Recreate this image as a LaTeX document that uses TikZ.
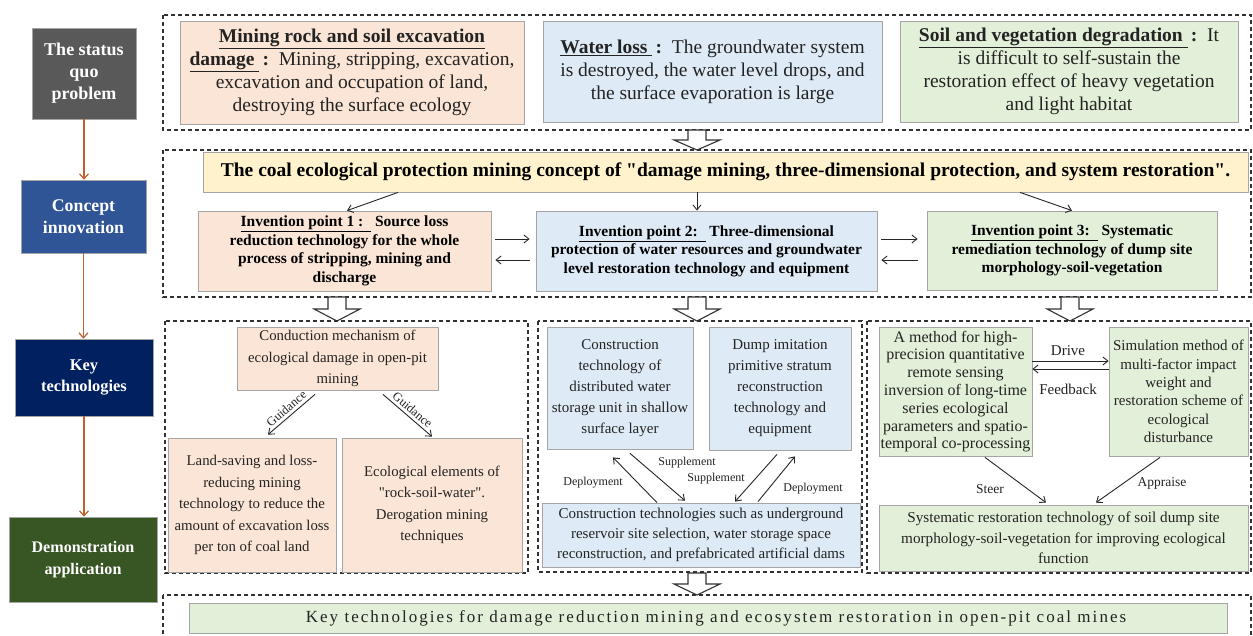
\documentclass[tikz,border=0pt]{standalone}
\usepackage{fontspec}
\setmainfont{Liberation Serif}
\usetikzlibrary{arrows.meta,calc}
\definecolor{pinkf}{RGB}{251,229,214}
\definecolor{bluef}{RGB}{222,235,247}
\definecolor{greenf}{RGB}{226,240,217}
\definecolor{yellowf}{RGB}{255,242,204}
\definecolor{sqc}{RGB}{89,89,89}
\definecolor{cic}{RGB}{47,85,151}
\definecolor{ktc}{RGB}{0,32,96}
\definecolor{dac}{RGB}{55,86,35}
\definecolor{boxline}{RGB}{165,165,165}
\definecolor{frameline}{RGB}{50,50,50}
\definecolor{txt}{RGB}{35,35,35}
\definecolor{brown}{RGB}{190,98,48}
\newcommand\hollowarrow[3]{%
  \draw[hollow] ({#1-9},#2) -- ({#1+9},#2) -- ({#1+9},{(#2+#3)/2}) -- ({#1+23},{(#2+#3)/2})
     -- (#1,#3) -- ({#1-23},{(#2+#3)/2}) -- ({#1-9},{(#2+#3)/2}) -- cycle;}
\begin{document}
\begin{tikzpicture}[x=1pt,y=-1pt,
  box/.style={draw=boxline, line width=0.8pt, align=center, inner sep=0pt, text=txt},
  lbl/.style={draw=boxline, line width=0.6pt, align=center, inner sep=0pt, text=white,
    font=\fontsize{18}{22}\selectfont\bfseries},
  frame/.style={draw=frameline, line width=1.1pt, dash pattern=on 4pt off 3pt},
  arr/.style={-{Straight Barb[length=5pt,width=8pt]}, line width=0.9pt, draw=black!85},
  brarr/.style={-{Straight Barb[length=5pt,width=9pt]}, line width=1.2pt, draw=brown},
  hollow/.style={draw=black!80, line width=1.1pt, fill=white},
  small/.style={text=txt, inner sep=1pt, font=\fontsize{12}{13}\selectfont},
  topf/.style={font=\fontsize{19.5}{23}\selectfont},
  invf/.style={font=\fontsize{15.5}{18.5}\selectfont\bfseries, text=black},
  botf/.style={font=\fontsize{14.8}{21.5}\selectfont},
  ]
\useasboundingbox (0,0) rectangle (1253,635);
\fill[white] (0,0) rectangle (1253,635);

% left column
\node[lbl, fill=sqc, minimum width=104pt, minimum height=91pt] (sq) at (84,73.5) {The status\\quo\\problem};
\node[lbl, fill=cic, minimum width=125pt, minimum height=73pt, font=\fontsize{17.8}{22}\selectfont\bfseries] (ci) at (83.5,216.5) {Concept\\innovation};
\node[lbl, fill=ktc, minimum width=138pt, minimum height=77pt, font=\fontsize{16.4}{21}\selectfont\bfseries] (kt) at (84,377.5) {Key\\technologies};
\node[lbl, fill=dac, minimum width=148pt, minimum height=85pt, font=\fontsize{16.1}{22}\selectfont\bfseries] (da) at (83,559.5) {Demonstration\\application};
\draw[brarr] (sq.south) -- (sq.south |- ci.north);
\draw[brarr] (ci.south) -- (ci.south |- kt.north);
\draw[brarr] (kt.south) -- (kt.south |- da.north);

% top frame
\draw[frame] (163,15) rectangle (1251,130);
\node[box, fill=pinkf, topf, minimum width=344pt, minimum height=103pt] (t1) at (352,72.5)
 {\textbf{\underline{Mining rock and soil excavation}}\\\textbf{\underline{damage\ }\,:}\ \ Mining, stripping, excavation,\\excavation and occupation of land,\\destroying the surface ecology};
\node[box, fill=bluef, topf, minimum width=339pt, minimum height=101pt] (t2) at (712.5,71.5)
 {\textbf{\underline{Water loss\ }\,:}\ \ The groundwater system\\is destroyed, the water level drops, and\\the surface evaporation is large};
\node[box, fill=greenf, topf, minimum width=338pt, minimum height=101pt] (t3) at (1069,71.5)
 {\textbf{\underline{Soil and vegetation degradation\ }\,:}\ \ It\\is difficult to self-sustain the\\restoration effect of heavy vegetation\\and light habitat};

% hollow arrow 1
\hollowarrow{697}{130}{150}

% concept frame
\draw[frame] (163,150) rectangle (1251,297);
\node[box, fill=yellowf, minimum width=1045pt, minimum height=40pt, text=black,
  font=\fontsize{19.5}{22}\selectfont\bfseries] (yel) at (725.5,172)
 {The coal ecological protection mining concept of \textquotedbl damage mining, three-dimensional protection, and system restoration\textquotedbl .};
\node[box, fill=pinkf, invf, minimum width=293pt, minimum height=80pt] (i1) at (344.5,251)
 {\underline{Invention point 1 :\ \ }\ Source loss\\reduction technology for the whole\\process of stripping, mining and\\discharge};
\node[box, fill=bluef, invf, minimum width=341pt, minimum height=80pt] (i2) at (706.5,251)
 {\underline{Invention point 2:\ \ }\ Three-dimensional\\protection of water resources and groundwater\\level restoration technology and equipment};
\node[box, fill=greenf, invf, minimum width=290pt, minimum height=79pt] (i3) at (1072,250.5)
 {\underline{Invention point 3:\ \ }\ Systematic\\remediation technology of dump site\\morphology-soil-vegetation};
\draw[arr] ([xshift=-327.5pt]yel.south) -- ([xshift=2.5pt]i1.north);
\draw[arr] ([xshift=-28.5pt]yel.south) -- ([xshift=-9.5pt]i2.north);
\draw[arr] ([xshift=294.5pt]yel.south) -- (i3.north);
\draw[arr] ([xshift=4pt,yshift=12pt]i1.east) -- ([xshift=-6pt,yshift=12pt]i2.west);
\draw[arr] ([xshift=-6pt,yshift=-9pt]i2.west) -- ([xshift=4pt,yshift=-9pt]i1.east);
\draw[arr] ([xshift=4pt,yshift=12pt]i2.east) -- ([xshift=-9pt,yshift=11.5pt]i3.west);
\draw[arr] ([xshift=-9pt,yshift=-9.5pt]i3.west) -- ([xshift=4pt,yshift=-9pt]i2.east);

\hollowarrow{337}{297}{321}
\hollowarrow{697}{297}{321}
\hollowarrow{1070}{297}{321}

% frame A
\draw[frame] (165,321) rectangle (528,573);
\node[box, fill=pinkf, botf, minimum width=201pt, minimum height=63pt] (cm) at (337.5,358.5)
 {Conduction mechanism of\\ecological damage in open-pit\\mining};
\node[box, fill=pinkf, botf, minimum width=168pt, minimum height=134pt] (ls) at (252,505)
 {Land-saving and loss-\\reducing mining\\technology to reduce the\\amount of excavation loss\\per ton of coal land};
\node[box, fill=pinkf, botf, minimum width=180pt, minimum height=134pt] (ee) at (432,505)
 {Ecological elements of\\\textquotedbl rock-soil-water\textquotedbl .\\Derogation mining\\techniques};
\draw[arr] ([xshift=-22.5pt,yshift=-4pt]cm.south) -- node[sloped, above, small, inner sep=3pt, font=\fontsize{12.5}{13}\selectfont] {Guidance} ([xshift=16pt,yshift=3pt]ls.north);
\draw[arr] ([xshift=45.5pt,yshift=-4pt]cm.south) -- node[sloped, above, small, inner sep=3pt, font=\fontsize{12.5}{13}\selectfont] {Guidance} ([yshift=1pt]ee.north);

% frame B
\draw[frame] (538,321) rectangle (862,572);
\node[box, fill=bluef, font=\fontsize{15}{21}\selectfont, minimum width=146pt, minimum height=122pt] (ct) at (620,388)
 {Construction\\technology of\\distributed water\\storage unit in shallow\\surface layer};
\node[box, fill=bluef, font=\fontsize{15}{21}\selectfont, minimum width=142pt, minimum height=123pt] (di) at (780,388.5)
 {Dump imitation\\primitive stratum\\reconstruction\\technology and\\equipment};
\node[box, fill=bluef, minimum width=318pt, minimum height=64pt, font=\fontsize{15}{20}\selectfont] (bb) at (701,535)
 {Construction technologies such as underground\\reservoir site selection, water storage space\\reconstruction, and prefabricated artificial dams};
\draw[arr] ([xshift=-44pt]bb.north) -- ([xshift=-7pt,yshift=-8pt]ct.south);
\draw[arr] ([xshift=10pt,yshift=-4pt]ct.south) -- ([xshift=-16pt,yshift=2pt]bb.north);
\draw[arr] ([xshift=-3pt,yshift=-4pt]di.south) -- ([xshift=34pt,yshift=1pt]bb.north);
\draw[arr] ([xshift=57pt,yshift=1pt]bb.north) -- ([xshift=15pt,yshift=-6pt]di.south);
\node[small] (dl) at (593,483) {Deployment};
\node[small] (s1) at (687,463) {Supplement};
\node[small] (s2) at (716,479) {Supplement};
\node[small] (dr) at (813,489) {Deployment};

% frame C
\draw[frame] (867,321) rectangle (1251,573);
\node[box, fill=greenf, minimum width=153pt, minimum height=129pt, font=\fontsize{16}{17.8}\selectfont] (me) at (955.5,391.5)
 {A method for high-\\precision quantitative\\remote sensing\\inversion of long-time\\series ecological\\parameters and spatio-\\temporal co-processing};
\node[box, fill=greenf, minimum width=139pt, minimum height=129pt, font=\fontsize{15}{18.3}\selectfont] (si) at (1178.5,391.5)
 {Simulation method of\\multi-factor impact\\weight and\\restoration scheme of\\ecological\\disturbance};
\node[box, fill=greenf, minimum width=369pt, minimum height=66pt, font=\fontsize{15.2}{20.5}\selectfont] (sy) at (1063.5,538)
 {Systematic restoration technology of soil dump site\\morphology-soil-vegetation for improving ecological\\function};
\draw[arr] ([yshift=30.5pt]me.east) -- ([yshift=30.5pt]si.west);
\draw[arr] ([yshift=22.5pt]si.west) -- ([yshift=22.5pt]me.east);
\draw[arr] ([xshift=29.5pt,yshift=-1pt]me.south) -- ([xshift=-17.5pt,yshift=2pt]sy.north);
\draw[arr] ([xshift=-18.5pt,yshift=-1pt]si.south) -- ([xshift=32.5pt,yshift=2pt]sy.north);
\node[small, font=\fontsize{15}{16}\selectfont] (dv) at (1068,351) {Drive};
\node[small, font=\fontsize{15}{16}\selectfont] (fb) at (1068,389) {Feedback};
\node[small, font=\fontsize{13.5}{14}\selectfont] (st) at (990,489) {Steer};
\node[small, font=\fontsize{13.5}{14}\selectfont] (ap) at (1162,483) {Appraise};

% final
\hollowarrow{697}{573}{595}
\draw[frame] (163,595) rectangle (1251,645);
\node[box, fill=greenf, minimum width=1038pt, minimum height=30pt] (fin) at (708,618) {};
\node[text=txt, inner sep=0pt, font=\fontsize{17}{18}\selectfont\addfontfeature{LetterSpace=12}] (fint) at (716,618)
 {Key technologies for damage reduction mining and ecosystem restoration in open-pit coal mines};
\end{tikzpicture}
\end{document}
